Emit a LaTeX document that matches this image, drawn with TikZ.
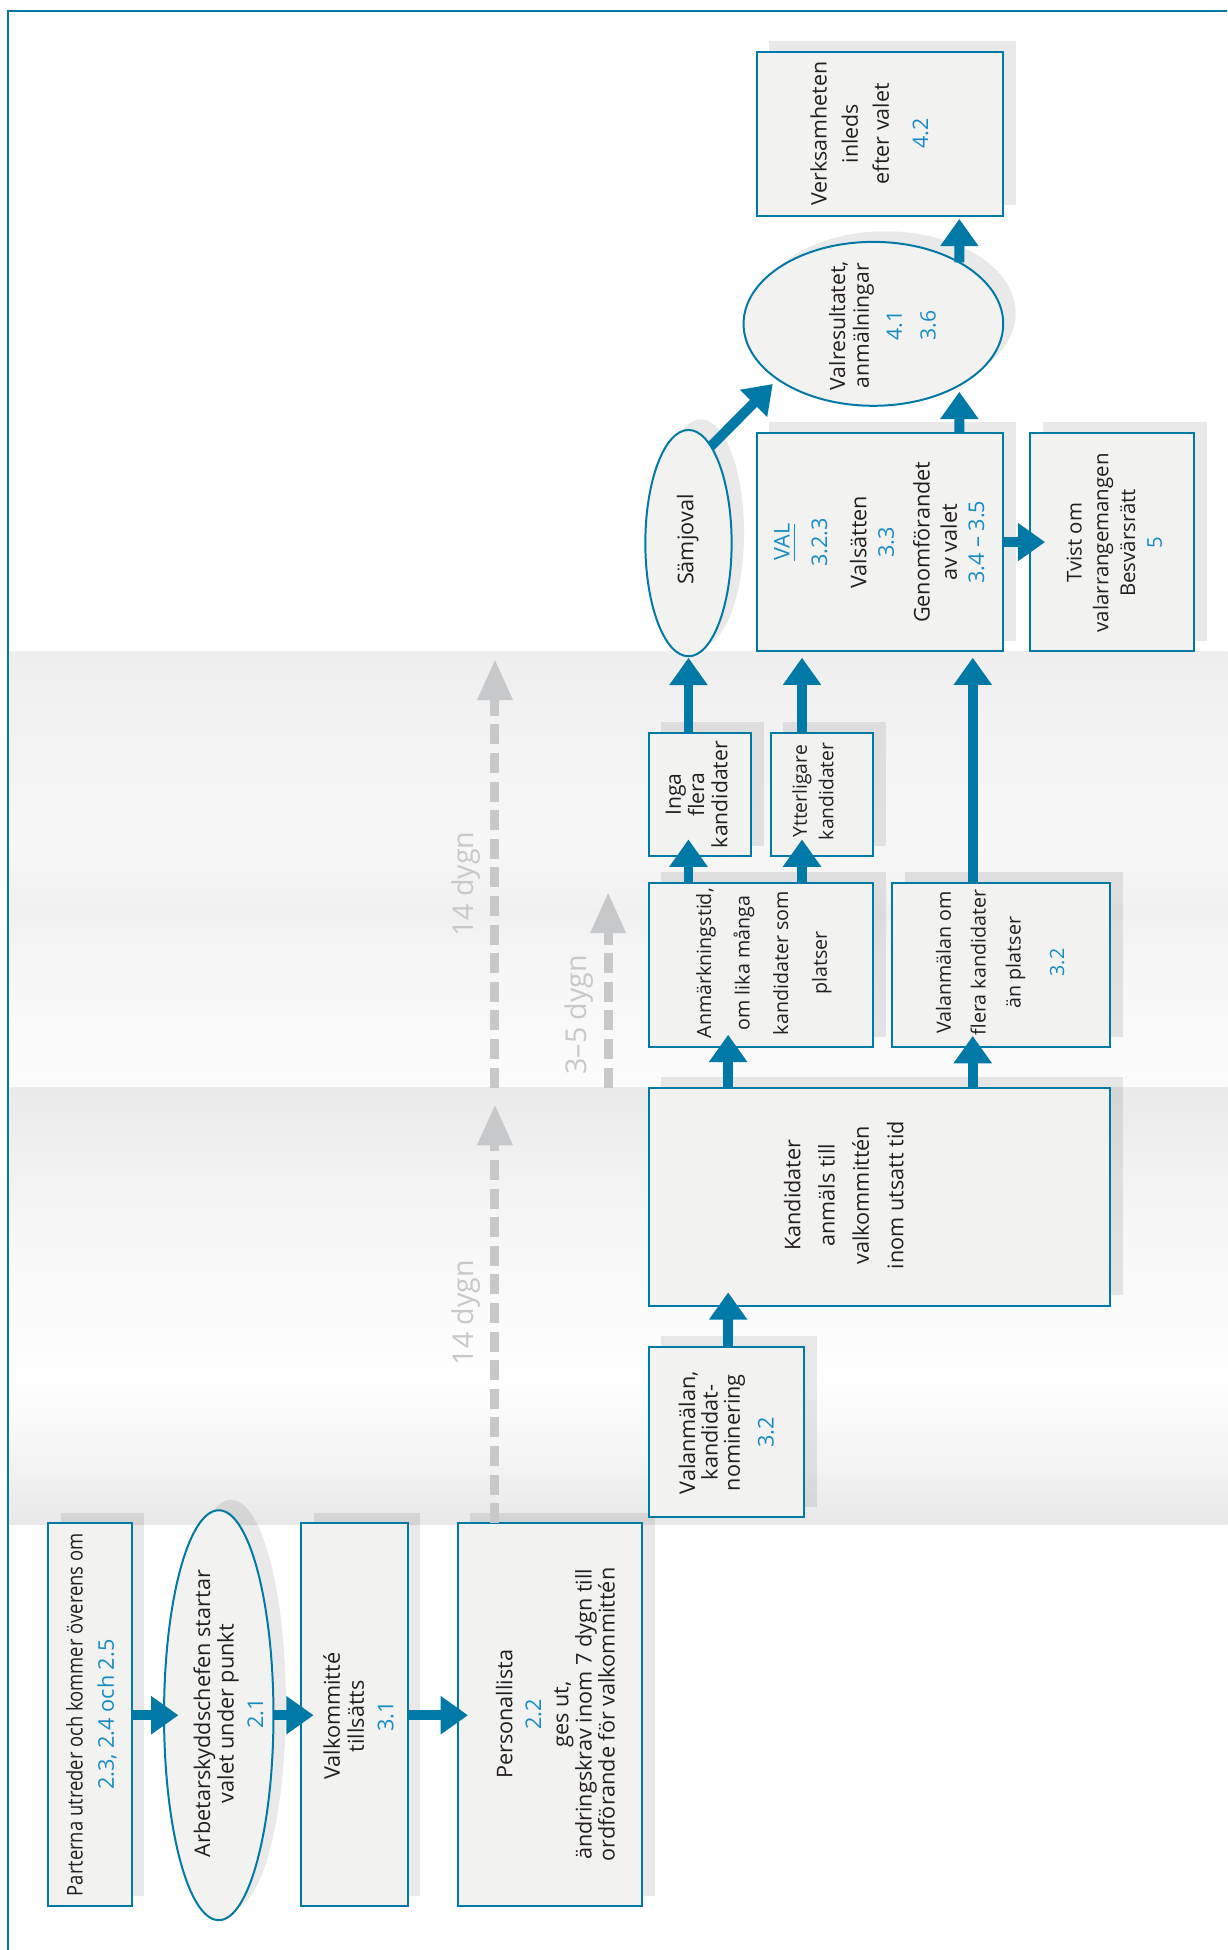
\documentclass[tikz,border=0pt]{standalone}
\usepackage{fontspec}
\setmainfont{Open Sans}
\usepackage{graphicx}
\usetikzlibrary{arrows.meta,shapes.geometric,calc}
\definecolor{bl}{RGB}{0,121,166}
\definecolor{nb}{RGB}{22,139,196}
\definecolor{boxfill}{RGB}{242,242,241}
\definecolor{tx}{RGB}{35,31,32}
\definecolor{gr}{RGB}{199,200,202}
\newcommand{\nm}[1]{\textcolor{nb}{#1}}
\newcommand{\fs}[2]{\fontsize{#1}{#2}\selectfont}
\newcommand{\myul}[1]{\leavevmode\setbox0=\hbox{#1}\rlap{\copy0}\rule[-4.6pt]{\wd0}{1.3pt}}
\pgfdeclareverticalshading{bandA}{100bp}{rgb(0bp)=(0.988,0.988,0.988); rgb(25bp)=(0.988,0.988,0.988); rgb(41bp)=(0.961,0.961,0.961); rgb(45bp)=(0.941,0.941,0.941); rgb(52.5bp)=(0.969,0.969,0.969); rgb(70bp)=(0.945,0.945,0.945); rgb(75bp)=(0.933,0.933,0.933); rgb(100bp)=(0.933,0.933,0.933)}
\pgfdeclareverticalshading{bandB}{100bp}{rgb(0bp)=(0.91,0.91,0.91); rgb(25bp)=(0.91,0.91,0.91); rgb(32.5bp)=(0.957,0.957,0.957); rgb(41.5bp)=(0.996,0.996,0.996); rgb(60bp)=(0.965,0.965,0.965); rgb(75bp)=(0.918,0.918,0.918); rgb(100bp)=(0.918,0.918,0.918)}
\newcommand{\shbox}[5]{%
  \fill[shad] ({#2+10-#4/2},{#3-8.5-#5/2}) rectangle ({#2+10+#4/2},{#3-8.5+#5/2});
  \node[box, minimum width=#4pt, minimum height=#5pt] (#1) at (#2,#3) {};}
\newcommand{\shell}[5]{%
  \fill[shad] ({#2+10},{#3-8.5}) ellipse ({#4/2} and {#5/2});
  \node[ellbox, minimum width=#4pt, minimum height=#5pt] (#1) at (#2,#3) {};}
\begin{document}
\begin{tikzpicture}[x=1pt,y=-1pt,
 box/.style={draw=bl,line width=1.6pt,fill=boxfill,rectangle,inner sep=0pt,outer sep=0pt},
 ellbox/.style={draw=bl,line width=1.6pt,fill=boxfill,ellipse,inner sep=0pt,outer sep=0pt},
 shad/.style={fill=black,fill opacity=0.085},
 txt/.style={rotate=90,align=center,inner sep=0pt,text=tx},
 arr/.style={draw=bl,line width=8pt,-{Triangle[length=22pt,width=29.5pt]}},
 garr/.style={draw=gr,line width=7.2pt,dash pattern=on 16pt off 7pt,-{Triangle[length=33pt,width=26.8pt]}},
 glab/.style={rotate=90,inner sep=0pt,text=gr,font=\fs{23}{27}}]
\useasboundingbox (0,0) rectangle (987,1568);
% background bands and frame
\shade[shading=bandA] (7,524) rectangle (987,874.5);
\shade[shading=bandB] (7,874.5) rectangle (987,1226);
\draw[bl,line width=1.6pt] (6.2,1568) -- (6.2,8.8);
\draw[bl,line width=1.9pt] (5.4,8.8) -- (987,8.8);
% boxes
\shbox{par}{72.4}{1378.75}{67}{307.9}
\shell{arb}{175.9}{1379.2}{88}{329.6}
\shbox{valk}{285}{1378.75}{85.6}{307.9}
\shbox{pers}{442.4}{1378.75}{148.2}{307.9}
\shbox{vkn}{584.1}{1151.4}{125.2}{137.2}
\shbox{kand}{707.15}{962.45}{371.3}{175.5}
\shbox{anm}{611.85}{776}{180.7}{132}
\shbox{vom}{805.1}{776}{175.4}{132}
\shbox{inga}{562.8}{638.95}{82.6}{99.1}
\shbox{ytt}{660.9}{638.95}{82.6}{99.1}
\shell{sam}{553.6}{436.7}{69.4}{182}
\shbox{val}{707.7}{435.9}{198}{175.8}
\shbox{tvist}{894.4}{435.9}{132}{175.8}
\shell{res}{702.3}{260.4}{208.8}{131.8}
\shbox{verk}{707.7}{107.7}{198}{131.8}
% helper coordinates
\coordinate (xa) at (585.5,0);
\coordinate (xb) at (782.2,0);
\coordinate (xd) at (644.9,0);
\coordinate (xr) at (771.4,0);
\coordinate (g1) at (398,0);
\coordinate (gt1) at (398,888);
\coordinate (gb2) at (398,874.5);
\coordinate (gt2) at (398,530);
\coordinate (gb3) at (489,874.5);
\coordinate (gt3) at (489,717.4);
% gray time arrows
\draw[garr] (pers.north -| g1) -- (gt1);
\draw[garr] (gb2) -- (gt2);
\draw[garr] (gb3) -- (gt3);
% blue connectors
\draw[arr] (par.east |- arb.west) -- ($(arb.west)+(11.6,0)$);
\draw[arr] (arb.east) -- ($(valk.west |- arb.east)+(10,0)$);
\draw[arr] (valk.east |- arb.east) -- ($(pers.west |- arb.east)+(8,0)$);
\draw[arr] (vkn.north -| xa) -- ($(kand.south -| xa)+(0,-11)$);
\draw[arr] (kand.north -| xa) -- ($(anm.south -| xa)+(0,-10)$);
\draw[arr] (kand.north -| xb) -- ($(vom.south -| xb)+(0,-9)$);
\draw[arr] (anm.north -| sam) -- ($(inga.south -| sam)+(0,-13.5)$);
\draw[arr] (anm.north -| xd) -- ($(ytt.south -| xd)+(0,-13.5)$);
\draw[arr] (inga.north -| sam) -- ($(sam.south)+(0,1.2)$);
\draw[arr] (ytt.north -| xd) -- ($(val.south -| xd)+(0,5)$);
\draw[arr] (vom.north -| xb) -- ($(val.south -| xb)+(0,5)$);
\draw[arr] (val.east) -- ($(tvist.west)+(12,0)$);
\draw[arr,shorten >=5.5pt] (sam.77) -- (res.210);
\draw[arr] (val.north -| xr) -- ($(res.center)+(69.1,54.6)$);
\draw[arr] ($(res.center)+(69.1,-49.4)$) -- ($(verk.south -| xr)+(0,2.4)$);
% texts
\node[txt,font=\fs{17.4}{25.3}] (t1) at (73.5,1378.8) {\scalebox{0.85}[1]{Parterna utreder och kommer överens om}\\\nm{2.3, 2.4 och 2.5}};
\node[txt,font=\fs{17.4}{18.8}] (t2) at (183.7,1378) {Arbetarskyddschefen startar\\valet under punkt\\[4.9pt]\nm{2.1}};
\node[txt,font=\fs{17.4}{19.3}] (t3) at (288.3,1380) {Valkommitté\\tillsätts\\[4.4pt]\nm{3.1}};
\node[txt,font=\fs{17.4}{18.6}] (t4) at (446.6,1378.5) {Personallista\\[4.4pt]\nm{2.2}\\[3.4pt]ges ut,\\ändringskrav inom 7 dygn till\\ordförande för valkommittén};
\node[txt,font=\fs{17.4}{18}] (t5) at (584,1152) {Valanmälan,\\kandidat-\\nominering\\[9pt]\nm{3.2}};
\node[txt,font=\fs{17.4}{27.6}] (t6) at (678.4,961) {Kandidater\\anmäls till\\valkommittén\\inom utsatt tid};
\node[txt,font=\fs{15.8}{31}] (t7) at (614.2,774.5) {Anmärkningstid,\\om lika många\\kandidater som\\platser};
\node[txt,font=\fs{15.8}{28}] (t8) at (804.2,774) {Valanmälan om\\flera kandidater\\än platser\\[7pt]\nm{3.2}};
\node[txt,font=\fs{17}{18.7}] (t9) at (560.1,639) {Inga\\flera\\kandidater};
\node[txt,font=\fs{15.5}{21.3}] (t10) at (653.7,636.3) {Ytterligare\\kandidater};
\node[txt,font=\fs{17.4}{20}] (t11) at (553,434) {Sämjoval};
\node[txt,font=\fs{17.4}{22}] (t12) at (707.1,436) {\nm{\myul{VAL}}\\[8pt]\nm{3.2.3}\\[9.7pt]Valsätten\\\nm{3.3}\\[6.7pt]Genomförandet\\av valet\\\nm{3.4 – 3.5}};
\node[txt,font=\fs{16.4}{21.5}] (t13) at (896,436.5) {Tvist om\\valarrangemangen\\Besvärsrätt\\\nm{5}};
\node[txt,font=\fs{17}{19}] (t14) at (709.6,261.9) {Valresultatet,\\anmälningar\\[7.6pt]\nm{4.1}\\[8pt]\nm{3.6}};
\node[txt,font=\fs{17.2}{25}] (t15) at (699.1,107.5) {Verksamheten\\inleds\\efter valet\\[6.5pt]\nm{4.2}};
% time labels
\node[glab] (l1) at (374.5,1055.5) {14 dygn};
\node[glab] (l2) at (374.5,711) {14 dygn};
\node[glab] (l3) at (466,816) {3–5 dygn};
\end{tikzpicture}
\end{document}
